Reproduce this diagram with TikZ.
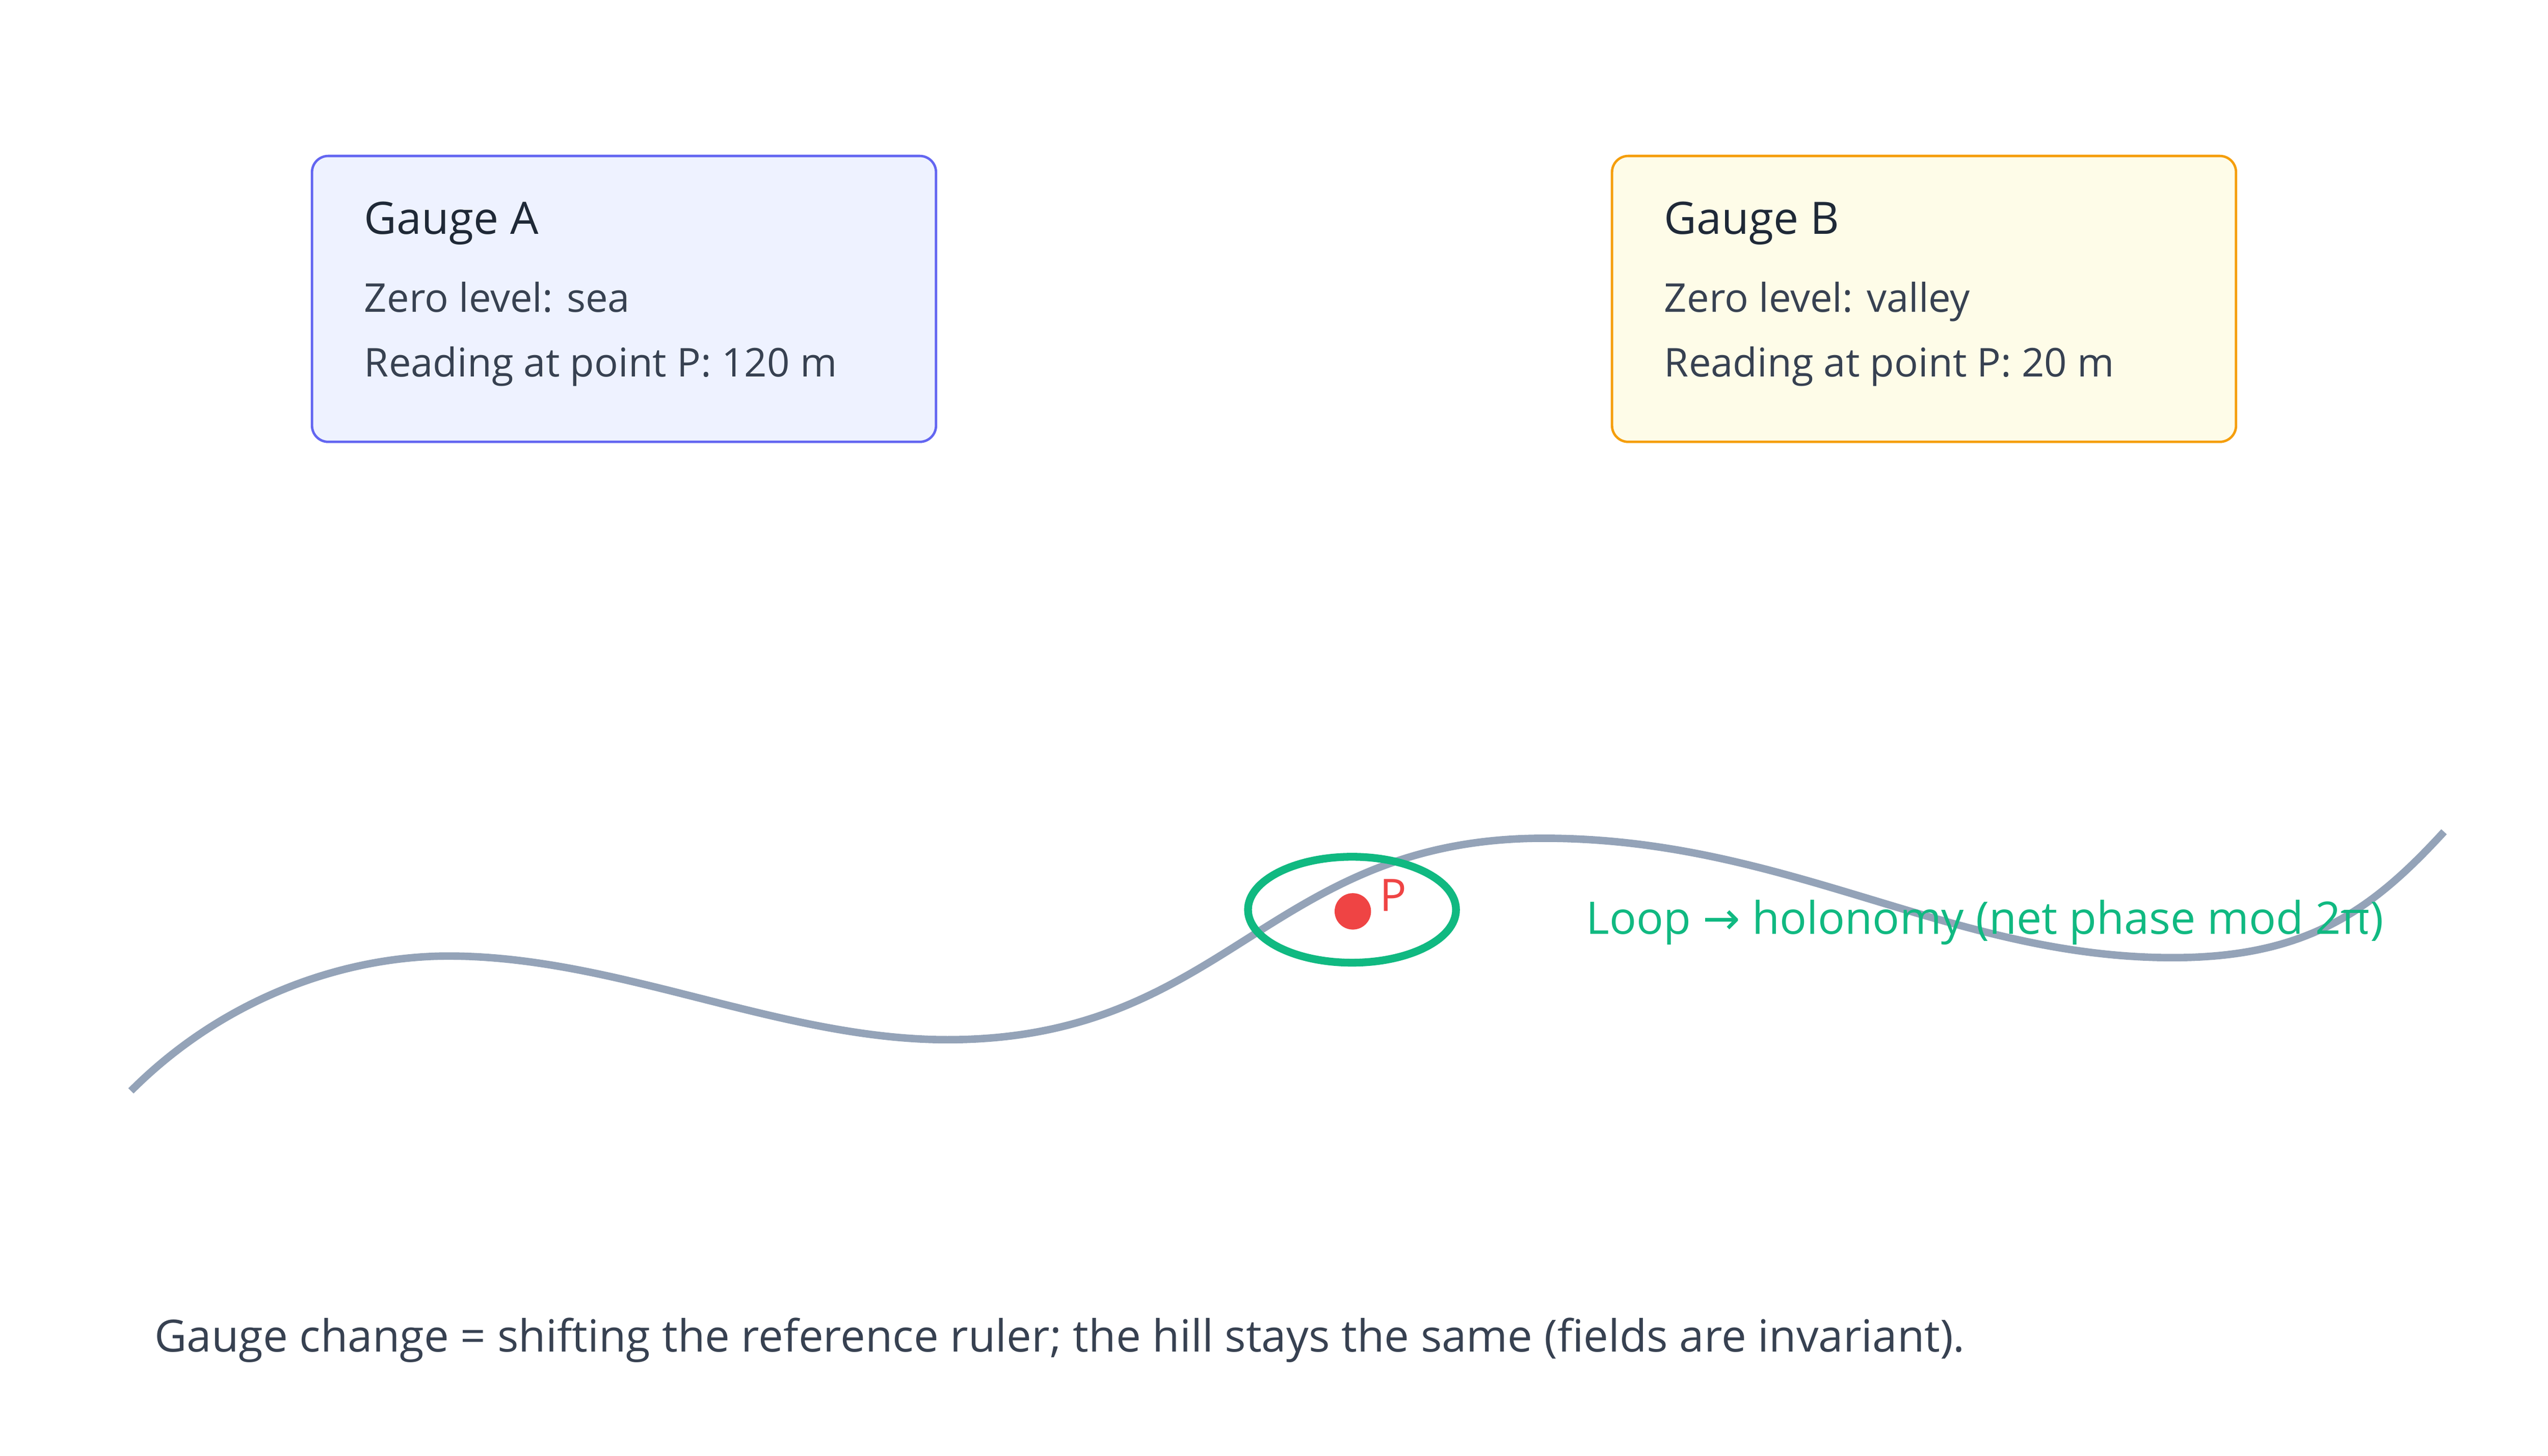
\documentclass[tikz,border=0pt]{standalone}
\usepackage{fontspec}
\setmainfont{Open Sans}
\newfontfamily\arrowfont{DejaVu Sans}
\definecolor{inkdark}{HTML}{1F2937}
\definecolor{inkbody}{HTML}{374151}
\definecolor{hillgray}{HTML}{94A3B8}
\definecolor{loopgreen}{HTML}{10B981}
\definecolor{pointred}{HTML}{EF4444}
\definecolor{aline}{HTML}{6366F1}
\definecolor{afill}{HTML}{EEF2FF}
\definecolor{bline}{HTML}{F59E0B}
\definecolor{bfill}{HTML}{FEFCE8}
\tikzset{
  gaugebox/.style={line width=1.5pt, rounded corners=10pt},
  heading/.style={anchor=base west, inner sep=0pt, text=inkdark, font=\fontsize{27.5}{33}\selectfont},
  bodyline/.style={anchor=base west, inner sep=0pt, text=inkbody, font=\fontsize{24.4}{29}\selectfont},
}
\begin{document}
\begin{tikzpicture}[x=1pt,y=-1pt]
  \useasboundingbox (0,0) rectangle (1568,896);
  % gauge boxes
  \draw[gaugebox, draw=aline, fill=afill] (192,96) coordinate (A1) rectangle (576,272) coordinate (A2);
  \draw[gaugebox, draw=bline, fill=bfill] (992,96) coordinate (B1) rectangle (1376,272) coordinate (B2);
  \node[heading] (titleA) at (224,144) {Gauge A};
  \node[bodyline] (zeroA) at (224,192) {Zero level: sea};
  \node[bodyline] (readA) at (224,232) {Reading at point P: 120 m};
  \node[heading] (titleB) at (1024,144) {Gauge B};
  \node[bodyline] (zeroB) at (1024,192) {Zero level: valley};
  \node[bodyline] (readB) at (1024,232) {Reading at point P: 20 m};
  % the hill
  \draw[hillgray, line width=4.6pt]
    (80.6,671.5) .. controls (140,612) and (215,588.5) .. (276,588.5)
    .. controls (380,588.5) and (480,640) .. (583,640)
    .. controls (755,640) and (780,516) .. (950,516)
    .. controls (1100,516) and (1200,589.5) .. (1337,589.5)
    .. controls (1420,589.5) and (1460,560) .. (1504,512);
  % loop round P
  \draw[loopgreen, line width=4.8pt] (832,560) circle[x radius=64, y radius=32.6];
  \node[circle, fill=pointred, inner sep=0pt, minimum size=22.4pt] (P) at (832.5,561) {};
  \node[anchor=base west, inner sep=0pt, text=pointred, font=\fontsize{27.5}{33}\selectfont] (Plabel) at (849,561) {P};
  \node[anchor=base west, inner sep=0pt, text=loopgreen, font=\fontsize{27.6}{33}\selectfont] (holo) at (976,575) {Loop {\arrowfont →} holonomy (net phase mod 2π)};
  \node[anchor=base west, inner sep=0pt, text=inkbody, font=\fontsize{27.3}{33}\selectfont] (note) at (95,832) {Gauge change = shifting the reference ruler; the hill stays the same (fields are invariant).};
\end{tikzpicture}
\end{document}
